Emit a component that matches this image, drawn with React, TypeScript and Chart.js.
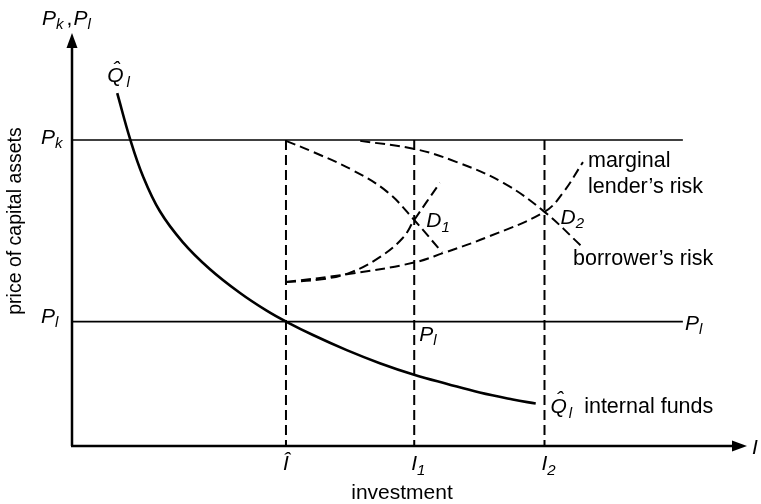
import React, { useEffect, useRef } from "react";
import { Chart, registerables } from "chart.js";

Chart.register(...registerables);

// ---- data (investment units on x, price units on y) ----
const P_K = 7.5;
const P_L = 3.05;
const I_HAT = 3.17;
const I_1 = 5.07;
const I_2 = 7.0;
const LINE_END = 9.05;
const X_MAX = 10;
const Y_MAX = 10.1;

// internal funds curve Q̂_l
const qX = [0.67, 0.86, 1.05, 1.3, 1.64, 2.04, 2.49, 2.89, 3.17, 3.57, 4.07, 4.56, 5.08, 5.56, 6.04, 6.53, 6.87];
const qY = [8.65, 7.53, 6.62, 5.76, 5.0, 4.34, 3.75, 3.31, 3.05, 2.72, 2.35, 2.03, 1.74, 1.52, 1.31, 1.14, 1.04];

// borrower's risk curves
const b1X = [3.17, 3.57, 4.16, 4.67, 5.07, 5.48];
const b1Y = [7.48, 7.21, 6.76, 6.23, 5.54, 4.75];
const b2X = [4.27, 5.08, 5.7, 6.39, 7.0, 7.56];
const b2Y = [7.48, 7.28, 6.96, 6.45, 5.74, 4.88];

// marginal lender's risk curves
const l1X = [3.17, 3.67, 4.12, 4.56, 4.9, 5.07, 5.45];
const l1Y = [4.02, 4.08, 4.25, 4.63, 5.1, 5.54, 6.45];
const l2X = [3.17, 4.12, 5.05, 5.5, 6.15, 7.0, 7.27, 7.57];
const l2Y = [4.02, 4.22, 4.49, 4.73, 5.12, 5.74, 6.2, 6.96];

const FONT = "'Liberation Sans', Arial, Helvetica, sans-serif";

const pts = (xs: number[], ys: number[]) => xs.map((x, i) => ({ x, y: ys[i] }));

function italic(size: number) {
  return `italic ${size}px ${FONT}`;
}

function subLabel(
  ctx: CanvasRenderingContext2D,
  x: number,
  y: number,
  main: string,
  sub: string,
  size: number,
  subSize: number,
  drop: number,
  gap = 0,
  hat = false
) {
  ctx.font = italic(size);
  ctx.textAlign = "left";
  ctx.textBaseline = "alphabetic";
  ctx.fillText(main, x, y);
  const w = ctx.measureText(main).width;
  if (hat) {
    ctx.fillText("ˆ", x + w / 2 - size * 0.12, y - size * 0.3);
  }
  ctx.font = italic(subSize);
  ctx.fillText(sub, x + w + gap, y + drop);
  return x + w + gap + ctx.measureText(sub).width;
}

const drawPlugin = {
  id: "diagramDecor",
  afterDatasetsDraw(chart: any) {
    const ctx: CanvasRenderingContext2D = chart.ctx;
    const xs = chart.scales.x;
    const ys = chart.scales.y;
    const X = (v: number) => xs.getPixelForValue(v);
    const Y = (v: number) => ys.getPixelForValue(v);
    ctx.save();
    ctx.fillStyle = "#000";
    ctx.strokeStyle = "#000";
    // axes
    ctx.lineWidth = 2.5;
    ctx.beginPath();
    ctx.moveTo(X(0), Y(0));
    ctx.lineTo(X(0), Y(Y_MAX) + 10);
    ctx.moveTo(X(0) - 1, Y(0));
    ctx.lineTo(X(X_MAX) - 12, Y(0));
    ctx.stroke();
    // arrow heads
    ctx.beginPath();
    ctx.moveTo(X(0), Y(Y_MAX) - 1);
    ctx.lineTo(X(0) - 5.5, Y(Y_MAX) + 14);
    ctx.lineTo(X(0) + 5.5, Y(Y_MAX) + 14);
    ctx.closePath();
    ctx.fill();
    ctx.beginPath();
    ctx.moveTo(X(X_MAX), Y(0));
    ctx.lineTo(X(X_MAX) - 15, Y(0) - 5.5);
    ctx.lineTo(X(X_MAX) - 15, Y(0) + 5.5);
    ctx.closePath();
    ctx.fill();

    // texts
    const S = 21;
    const SS = 15;
    // top-left axis label
    let e = subLabel(ctx, X(0) - 30, Y(Y_MAX) - 9, "P", "k", S, SS, 4);
    ctx.font = `${S}px ${FONT}`;
    ctx.fillText(",", e + 3, Y(Y_MAX) - 9);
    subLabel(ctx, e + 10, Y(Y_MAX) - 9, "P", "l", S, SS, 4);

    // Q̂ top label
    subLabel(ctx, X(qX[0]) - 10, Y(qY[0]) - 11, "Q", "l", S, SS, 5, 3, true);

    // Pk, Pl left labels
    subLabel(ctx, X(0) - 31, Y(P_K) + 4, "P", "k", S, SS, 4);
    subLabel(ctx, X(0) - 31, Y(P_L) + 1, "P", "l", S, SS, 4);
    // Pl middle and right
    subLabel(ctx, X(I_1) + 5, Y(P_L) + 19, "P", "l", S, SS, 4);
    subLabel(ctx, X(LINE_END) + 2, Y(P_L) + 8, "P", "l", S, SS, 4);

    // D1, D2
    subLabel(ctx, X(I_1) + 12, Y(5.54) + 7, "D", "1", S, SS, 5);
    subLabel(ctx, X(I_2) + 16, Y(5.74) + 12, "D", "2", S, SS, 4);

    // curve labels
    ctx.font = `21.5px ${FONT}`;
    ctx.textAlign = "left";
    ctx.fillText("marginal", 588, Y(6.96) + 5);
    ctx.fillText("lender’s risk", 588, Y(6.96) + 31);
    ctx.fillText("borrower’s risk", 573, Y(4.88) + 18);

    // bottom Q̂ label
    e = subLabel(ctx, X(I_2) + 6, Y(qY[qY.length - 1]) + 9, "Q", "l", S, SS, 5, 2, true);
    ctx.font = `21.5px ${FONT}`;
    ctx.textAlign = "left";
    ctx.fillText("internal funds", e + 12, Y(qY[qY.length - 1]) + 9);

    // x tick labels
    ctx.font = italic(S);
    ctx.textAlign = "center";
    ctx.fillText("Î", X(I_HAT), Y(0) + 24);
    subLabel(ctx, X(I_1) - 3, Y(0) + 24, "I", "1", S, SS, 5);
    subLabel(ctx, X(I_2) - 3, Y(0) + 24, "I", "2", S, SS, 5);
    ctx.font = italic(S);
    ctx.textAlign = "left";
    ctx.fillText("I", X(X_MAX) + 5, Y(0) + 8);

    // axis titles
    ctx.font = `21px ${FONT}`;
    ctx.textAlign = "center";
    ctx.fillText("investment", 402, Y(0) + 53);
    ctx.save();
    ctx.translate(16, 221);
    ctx.rotate(-Math.PI / 2);
    ctx.font = `19.5px ${FONT}`;
    ctx.textBaseline = "middle";
    ctx.fillText("price of capital assets", 0, 0);
    ctx.restore();
    ctx.restore();
  },
};

export default function App() {
  const ref = useRef<HTMLCanvasElement | null>(null);
  useEffect(() => {
    if (!ref.current) return;
    const dash = [10, 5];
    const line = (data: any[], width: number, dashed: boolean, smooth: boolean) => ({
      data,
      showLine: true,
      borderColor: "#000",
      backgroundColor: "#000",
      borderWidth: width,
      borderDash: dashed ? dash : [],
      pointRadius: 0,
      fill: false,
      tension: smooth ? 0.4 : 0,
      clip: false,
    });
    const chart = new Chart(ref.current, {
      type: "scatter",
      data: {
        datasets: [
          line([{ x: 0, y: P_K }, { x: LINE_END, y: P_K }], 1.6, false, false),
          line([{ x: 0, y: P_L }, { x: LINE_END, y: P_L }], 1.6, false, false),
          line([{ x: I_HAT, y: P_K }, { x: I_HAT, y: 0 }], 2, true, false),
          line([{ x: I_1, y: P_K }, { x: I_1, y: 0 }], 2, true, false),
          line([{ x: I_2, y: P_K }, { x: I_2, y: 0 }], 2, true, false),
          line(pts(qX, qY), 2.6, false, true),
          line(pts(b1X, b1Y), 2, true, true),
          line(pts(b2X, b2Y), 2, true, true),
          line(pts(l1X, l1Y), 2, true, true),
          line(pts(l2X, l2Y), 2, true, true),
        ] as any,
      },
      options: {
        responsive: false,
        animation: false,
        events: [],
        layout: { padding: { left: 72, right: 14, top: 34, bottom: 58 } },
        plugins: { legend: { display: false }, tooltip: { enabled: false } },
        scales: {
          x: { type: "linear", min: 0, max: X_MAX, display: false },
          y: { type: "linear", min: 0, max: Y_MAX, display: false },
        },
      },
      plugins: [drawPlugin],
    });
    return () => chart.destroy();
  }, []);
  return (
    <div style={{ position: "fixed", left: 0, top: 0, width: 761, height: 504, background: "#fff" }}>
      <canvas ref={ref} width={761} height={504} style={{ width: 761, height: 504 }} />
    </div>
  );
}
